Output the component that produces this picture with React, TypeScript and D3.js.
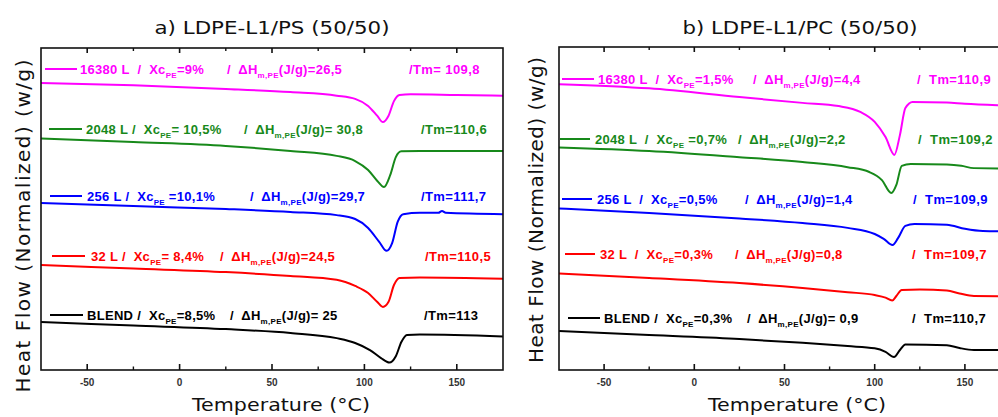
import React from 'react';
import * as d3 from 'd3';

// ---------- DATA ----------
const SAMPLES = ['16380 L', '2048 L', '256 L', '32 L', 'BLEND'];
const X_TICKS = [-50, 0, 50, 100, 150];
const X_MINOR = [-25, 25, 75, 125];

// Panel a) LDPE-L1/PS (50/50)  -- temperature (°C) / normalized heat flow (a.u.)
const A_T_16380 = [-75, -25, 25, 60, 85, 95, 102, 107, 110, 113, 116, 119, 125, 150, 175];
const A_HF_16380 = [8.91, 8.84, 8.73, 8.63, 8.52, 8.42, 8.2, 7.89, 7.7, 7.89, 8.35, 8.54, 8.56, 8.54, 8.52];
const A_T_2048 = [-75, -25, 25, 60, 85, 95, 102, 107, 110.6, 114, 117, 120, 130, 175];
const A_HF_2048 = [7.19, 7.08, 6.96, 6.8, 6.65, 6.49, 6.21, 5.87, 5.68, 6.06, 6.61, 6.79, 6.8, 6.8];
const A_T_256 = [-75, -25, 25, 60, 85, 95, 102, 108, 112, 115, 118, 121, 130, 140, 142, 144, 175];
const A_HF_256 = [5.19, 5.09, 5.0, 4.91, 4.81, 4.69, 4.41, 3.98, 3.7, 3.94, 4.6, 4.84, 4.88, 4.88, 4.94, 4.88, 4.84];
const A_T_32 = [-75, -25, 25, 60, 85, 95, 102, 107, 110, 113, 116, 119, 130, 175];
const A_HF_32 = [3.26, 3.15, 3.04, 2.92, 2.8, 2.61, 2.39, 2.11, 1.96, 2.11, 2.64, 2.86, 2.87, 2.83];
const A_T_BLEND = [-75, -25, 25, 60, 85, 95, 103, 109, 113.5, 117, 120, 123, 130, 175];
const A_HF_BLEND = [1.49, 1.38, 1.27, 1.15, 0.99, 0.84, 0.62, 0.37, 0.23, 0.43, 0.87, 1.09, 1.1, 1.04];

const A_XC = ['=9%', '= 10,5%', ' =10,1%', '= 8,4%', '=8,5%'];
const A_DH = ['=26,5', '= 30,8', '=29,7', '=24,5', '= 25'];
const A_TM = ['/Tm= 109,8', '/Tm=110,6', '/Tm=111,7', '/Tm=110,5', '/Tm=113'];
const A_SEP = ['  /  ', ' /  ', ' /  ', ' /  ', ' /  '];

// Panel b) LDPE-L1/PC (50/50)
const B_T_16380 = [-75, -25, 25, 60, 80, 92, 100, 106, 110.9, 114, 117, 121, 140, 150, 168, 175];
const B_HF_16380 = [8.85, 8.72, 8.45, 8.27, 8.17, 7.99, 7.68, 7.21, 6.66, 7.28, 8.11, 8.3, 8.28, 8.24, 8.2, 8.19];
const B_T_2048 = [-75, -25, 25, 60, 85, 97, 104, 109.2, 112, 115, 120, 140, 148, 155, 175];
const B_HF_2048 = [6.89, 6.78, 6.59, 6.44, 6.28, 6.13, 5.88, 5.48, 5.73, 6.32, 6.38, 6.36, 6.32, 6.25, 6.24];
const B_T_256 = [-75, -25, 25, 60, 85, 100, 105, 109.9, 113, 117, 122, 140, 150, 160, 175];
const B_HF_256 = [5.0, 4.86, 4.69, 4.55, 4.4, 4.21, 4.06, 3.87, 4.09, 4.46, 4.52, 4.5, 4.37, 4.3, 4.29];
const B_T_32 = [-75, -25, 25, 60, 85, 100, 106, 109.7, 112, 115, 125, 140, 147, 155, 175];
const B_HF_32 = [2.99, 2.85, 2.69, 2.54, 2.41, 2.32, 2.24, 2.15, 2.29, 2.48, 2.49, 2.46, 2.37, 2.29, 2.28];
const B_T_BLEND = [-75, -25, 25, 60, 85, 100, 106, 110.7, 114, 117, 140, 147, 155, 175];
const B_HF_BLEND = [1.21, 1.08, 0.96, 0.84, 0.74, 0.67, 0.56, 0.4, 0.62, 0.79, 0.77, 0.68, 0.62, 0.62];

const B_XC = ['=1,5%', ' =0,7%', '=0,5%', '=0,3%', '=0,3%'];
const B_DH = ['=4,4', '=2,2', '=1,4', '=0,8', '= 0,9'];
const B_TM = ['/  Tm=110,9', '/  Tm=109,2', '/  Tm=109,9', '/  Tm=109,7', '/  Tm=110,7'];
const B_SEP = ['  /  ', '  /  ', '  /  ', '  /  ', ' /  '];

// ---------- STYLE / LAYOUT ----------
const COLORS = ['#ff00ff', '#17891a', '#0000ff', '#ff0000', '#000000'];
const TITLE_FONT = "'DejaVu Sans', Verdana, sans-serif";
const LABEL_FONT = "'Liberation Sans', Arial, sans-serif";

type Layout = {
  title: string;
  x0: number; x1: number; y0: number; y1: number;
  titleX: number; titleLen: number;
  yTitleX: number; yTitleC: number; yTitleLen: number;
  xTitleX: number;
  legY: number[]; lineX: number[][]; textX: number[]; slashX: number[]; tmX: number[];
};

const LAYOUT_A: Layout = {
  title: 'a) LDPE-L1/PS (50/50)',
  x0: 41, x1: 503, y0: 48, y1: 370,
  titleX: 272, titleLen: 235,
  yTitleX: 30, yTitleC: 226, yTitleLen: 333,
  xTitleX: 281,
  legY: [69, 129, 196, 256, 315],
  lineX: [[45, 77], [49, 82], [50, 82], [52, 85], [50, 83]],
  textX: [80, 86, 87, 91, 87],
  slashX: [227, 244, 250, 220, 230],
  tmX: [409, 421, 421, 425, 424],
};

const LAYOUT_B: Layout = {
  title: 'b) LDPE-L1/PC (50/50)',
  x0: 559, x1: 1010, y0: 47, y1: 370,
  titleX: 800, titleLen: 235,
  yTitleX: 543, yTitleC: 210, yTitleLen: 306,
  xTitleX: 797,
  legY: [79, 139, 199, 254, 318],
  lineX: [[562, 594], [560, 590], [562, 592], [565, 595], [568, 600]],
  textX: [598, 595, 597, 600, 604],
  slashX: [753, 738, 745, 735, 747],
  tmX: [917, 918, 913, 912, 912],
};

type PanelData = {
  t: number[][]; hf: number[][]; xc: string[]; dh: string[]; tm: string[]; sep: string[];
};

const DATA_A: PanelData = {
  t: [A_T_16380, A_T_2048, A_T_256, A_T_32, A_T_BLEND],
  hf: [A_HF_16380, A_HF_2048, A_HF_256, A_HF_32, A_HF_BLEND],
  xc: A_XC, dh: A_DH, tm: A_TM, sep: A_SEP,
};
const DATA_B: PanelData = {
  t: [B_T_16380, B_T_2048, B_T_256, B_T_32, B_T_BLEND],
  hf: [B_HF_16380, B_HF_2048, B_HF_256, B_HF_32, B_HF_BLEND],
  xc: B_XC, dh: B_DH, tm: B_TM, sep: B_SEP,
};

function Panel({ L, D, id }: { L: Layout; D: PanelData; id: string }) {
  const x = d3.scaleLinear().domain([-75, 175]).range([L.x0, L.x1]);
  const y = d3.scaleLinear().domain([0, 10]).range([L.y1, L.y0]);
  const line = d3
    .line<[number, number]>()
    .x((d) => x(d[0]))
    .y((d) => y(d[1]))
    .curve(d3.curveMonotoneX);

  const labelStyle: React.CSSProperties = { whiteSpace: 'pre' };

  return (
    <g>
      <defs>
        <clipPath id={`clip-${id}`}>
          <rect x={L.x0} y={L.y0} width={L.x1 - L.x0} height={L.y1 - L.y0} />
        </clipPath>
      </defs>
      {/* curves */}
      <g clipPath={`url(#clip-${id})`}>
        {D.t.map((ts, i) => (
          <path
            key={i}
            d={line(ts.map((tv, j) => [tv, D.hf[i][j]] as [number, number])) || ''}
            fill="none"
            stroke={COLORS[i]}
            strokeWidth={2}
            strokeLinejoin="round"
          />
        ))}
      </g>
      {/* legend / annotation texts */}
      {SAMPLES.map((name, i) => {
        const yy = L.legY[i];
        const base = yy + 5;
        return (
          <g key={name} fill={COLORS[i]} fontFamily={LABEL_FONT} fontWeight="bold" fontSize={13}>
            <line x1={L.lineX[i][0]} x2={L.lineX[i][1]} y1={yy} y2={yy} stroke={COLORS[i]} strokeWidth={2} />
            <text x={L.textX[i]} y={base} style={labelStyle} letterSpacing={0.3}>
              {`${name}${D.sep[i]}Xc`}
              <tspan fontSize={8} dy={4}>PE</tspan>
              <tspan dy={-4}>{D.xc[i]}</tspan>
            </text>
            <text x={L.slashX[i]} y={base} style={labelStyle} letterSpacing={0.3}>
              {'/  ΔH'}
              <tspan fontSize={8} dy={4}>m,PE</tspan>
              <tspan dy={-4}>{`(J/g)${D.dh[i]}`}</tspan>
            </text>
            <text x={L.tmX[i]} y={base} style={labelStyle} letterSpacing={0.4}>
              {D.tm[i]}
            </text>
          </g>
        );
      })}
      {/* frame */}
      <rect
        x={L.x0}
        y={L.y0}
        width={L.x1 - L.x0}
        height={L.y1 - L.y0}
        fill="none"
        stroke="#111"
        strokeWidth={1.6}
      />
      {/* ticks */}
      {X_TICKS.map((t) => (
        <g key={`M${t}`} stroke="#111" strokeWidth={1.6}>
          <line x1={x(t)} x2={x(t)} y1={L.y1} y2={L.y1 - 6} />
          <line x1={x(t)} x2={x(t)} y1={L.y0} y2={L.y0 + 5} />
        </g>
      ))}
      {X_MINOR.map((t) => (
        <g key={`m${t}`} stroke="#111" strokeWidth={1.4}>
          <line x1={x(t)} x2={x(t)} y1={L.y1} y2={L.y1 - 3.5} />
          <line x1={x(t)} x2={x(t)} y1={L.y0} y2={L.y0 + 3} />
        </g>
      ))}
      {X_TICKS.map((t) => (
        <text
          key={`l${t}`}
          x={x(t)}
          y={386}
          textAnchor="middle"
          fontFamily={LABEL_FONT}
          fontWeight="bold"
          fontSize={10}
          fill="#333"
        >
          {t}
        </text>
      ))}
      {/* titles */}
      <text
        x={L.titleX}
        y={34}
        textAnchor="middle"
        fontFamily={TITLE_FONT}
        fontSize={18}
        textLength={L.titleLen}
        lengthAdjust="spacingAndGlyphs"
        fill="#111"
      >
        {L.title}
      </text>
      <text
        x={L.xTitleX}
        y={411}
        textAnchor="middle"
        fontFamily={TITLE_FONT}
        fontSize={18}
        textLength={178}
        lengthAdjust="spacingAndGlyphs"
        fill="#111"
      >
        Temperature (°C)
      </text>
      <text
        transform={`translate(${L.yTitleX},${L.yTitleC}) rotate(-90)`}
        textAnchor="middle"
        fontFamily={TITLE_FONT}
        fontSize={20}
        textLength={L.yTitleLen}
        lengthAdjust="spacing"
        fill="#111"
      >
        Heat Flow (Normalized) (w/g)
      </text>
    </g>
  );
}

export default function App() {
  return (
    <svg
      width={998}
      height={417}
      style={{ position: 'absolute', left: 0, top: 0, background: '#fff' }}
    >
      <rect x={0} y={0} width={998} height={417} fill="#fff" />
      <Panel L={LAYOUT_A} D={DATA_A} id="a" />
      <Panel L={LAYOUT_B} D={DATA_B} id="b" />
    </svg>
  );
}
